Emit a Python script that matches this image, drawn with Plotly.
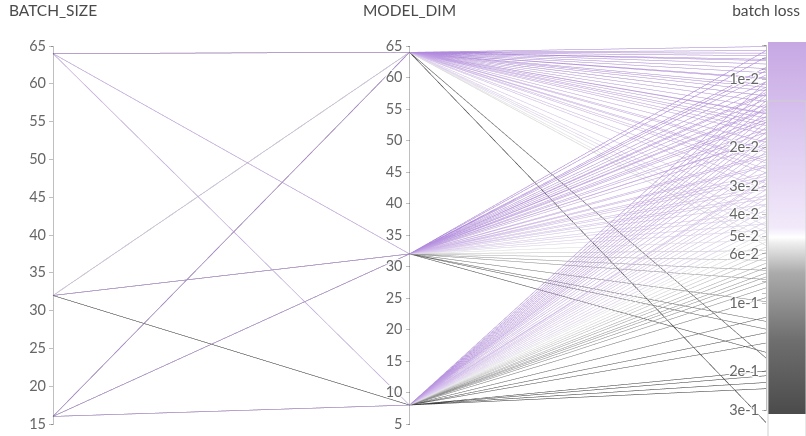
import numpy as np
import plotly.graph_objects as go

# ---- data (one entry per run) ----
loss_dim64_bs64 = [0.0071, 0.0074, 0.0078, 0.0082, 0.0085, 0.0089, 0.0093, 0.0099, 0.0105,
                   0.0112, 0.0118, 0.0125, 0.0133, 0.0141, 0.0148, 0.016, 0.0175,
                   0.019, 0.021, 0.023, 0.026, 0.029]
loss_dim64_bs16 = [0.0076, 0.0081, 0.0098, 0.0108, 0.0118, 0.0142, 0.0155, 0.0168, 0.0205,
                   0.0235, 0.025, 0.031, 0.037, 0.042, 0.175, 0.34]
loss_dim64_bs32 = [0.055, 0.048, 0.045, 0.052]
loss_dim32_bs16 = [0.0074, 0.0088, 0.0095, 0.0102, 0.0108, 0.0116, 0.0122, 0.0137, 0.0146,
                   0.0155, 0.0172, 0.0184, 0.0195, 0.022, 0.0245, 0.0262, 0.028, 0.031,
                   0.033, 0.036, 0.039, 0.044, 0.047, 0.052, 0.058, 0.064, 0.071, 0.078,
                   0.098, 0.12]
loss_dim32_bs32 = [0.0079, 0.0091, 0.0114, 0.0129, 0.0151, 0.0166, 0.0183, 0.0215, 0.024,
                   0.027, 0.03, 0.034, 0.041, 0.165]
loss_dim32_bs64 = [0.0135, 0.13]
loss_dim8_bs16 = [0.0102, 0.011, 0.0117, 0.0124, 0.0131, 0.0139, 0.0146, 0.0155, 0.0163,
                  0.0172, 0.0181, 0.0199, 0.021, 0.0226, 0.024, 0.0258, 0.0275, 0.0292,
                  0.031, 0.0325, 0.034, 0.036, 0.038, 0.0405, 0.043, 0.0455, 0.048, 0.05,
                  0.053, 0.056, 0.059, 0.062, 0.066, 0.069, 0.073, 0.076, 0.08, 0.085,
                  0.094, 0.115, 0.135, 0.15, 0.2, 0.21]
loss_dim8_bs32 = [0.225, 0.24]
loss_dim8_bs64 = [0.0188, 0.028]

groups = [
    (64, 64, loss_dim64_bs64), (16, 64, loss_dim64_bs16), (32, 64, loss_dim64_bs32),
    (16, 32, loss_dim32_bs16), (32, 32, loss_dim32_bs32), (64, 32, loss_dim32_bs64),
    (16, 8, loss_dim8_bs16), (32, 8, loss_dim8_bs32), (64, 8, loss_dim8_bs64),
]
batch_size, model_dim, batch_loss = [], [], []
for b, m, losses in groups:
    for v in losses:
        batch_size.append(b)
        model_dim.append(m)
        batch_loss.append(v)

ticks_bs = [15, 20, 25, 30, 35, 40, 45, 50, 55, 60, 65]
ticks_md = [5, 10, 15, 20, 25, 30, 35, 40, 45, 50, 55, 60, 65]
# listed from the bottom of the (reversed log) axis to the top
loss_ticks = [0.3, 0.2, 0.1, 0.09, 0.08, 0.07, 0.06, 0.05, 0.04, 0.03, 0.02, 0.01,
              0.009, 0.008, 0.007]
blank = "\u200b"
loss_tick_text = ["3e-1", "2e-1", "1e-1", blank, blank + blank, blank * 3, "6e-2", "5e-2",
                  "4e-2", "3e-2", "2e-2", "1e-2", blank * 4, blank * 5, blank * 6]
loss_range = [0.345, 0.00706]
color_range = [0.296, 0.00706]

# draw order: lines far from the white midpoint on top
order = sorted(range(len(batch_loss)),
               key=lambda i: abs(np.log10(batch_loss[i]) - np.log10(0.05)))
bs = [batch_size[i] for i in order]
md = [model_dim[i] for i in order]
lv = [float(-np.log10(batch_loss[i])) for i in order]

cmin = float(-np.log10(color_range[0]))
cmax = float(-np.log10(color_range[1]))

line_scale = [
    [0.0, "#2e2e2e"], [0.2, "#555555"], [0.38, "#9a9a9a"], [0.46, "#e2e2e2"],
    [0.475, "#eaeaea"], [0.5, "#e2d3f3"], [0.75, "#c5a5e6"], [1.0, "#ad84dc"],
]
bar_scale = [
    [0.0, "#4b4b4b"], [0.2, "#6f6f6f"], [0.38, "#ababab"], [0.46, "#eeeeee"],
    [0.475, "#ffffff"], [0.5, "#f2eafa"], [0.75, "#dcc9f0"], [1.0, "#c6a7e3"],
]

font_family = "Lato, Noto Sans, sans-serif"

fig = go.Figure()
fig.add_trace(go.Parcoords(
    line=dict(color=lv, colorscale=line_scale, cmin=cmin, cmax=cmax, showscale=False),
    dimensions=[
        dict(label="BATCH_SIZE", values=bs, range=[15, 65], tickvals=ticks_bs),
        dict(label="MODEL_DIM", values=md, range=[5, 65], tickvals=ticks_md),
        dict(label="batch loss", values=lv,
             range=[float(-np.log10(loss_range[0])), float(-np.log10(loss_range[1]))],
             tickvals=[float(-np.log10(t)) for t in loss_ticks],
             ticktext=loss_tick_text),
    ],
    labelfont=dict(family=font_family, size=15.5, color="#4a4a4a"),
    tickfont=dict(family=font_family, size=14.5, color="#666666"),
    rangefont=dict(size=1, color="rgba(0,0,0,0)"),
))
# colour bar for batch loss
fig.add_trace(go.Scatter(
    x=[None], y=[None], mode="markers", hoverinfo="skip", showlegend=False,
    marker=dict(
        color=[cmin], cmin=cmin, cmax=cmax, colorscale=bar_scale, showscale=True,
        colorbar=dict(
            xref="container", yref="container",
            x=768 / 806, xanchor="left", xpad=0, y=1 - 48 / 436, yanchor="top", ypad=0,
            len=372, lenmode="pixels", thickness=38,
            showticklabels=False, ticks="", outlinewidth=1, outlinecolor="#d0d0d0",
        ),
    ),
))

fig.update_layout(
    width=806, height=436,
    margin=dict(l=53, r=40, t=44, b=10, autoexpand=False),
    paper_bgcolor="white", plot_bgcolor="white",
    font=dict(family=font_family),
    xaxis=dict(visible=False), yaxis=dict(visible=False),
)

fig.write_html("out.html")
